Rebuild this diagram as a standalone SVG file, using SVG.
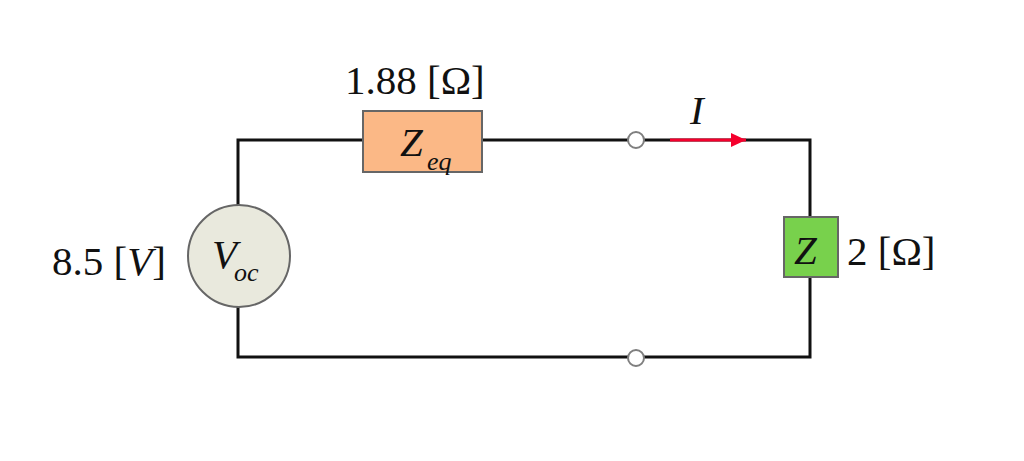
<svg xmlns="http://www.w3.org/2000/svg" width="1024" height="461" viewBox="0 0 1024 461">
<style>
text{font-family:"Liberation Serif","Times New Roman",serif;fill:#111;white-space:pre}
.v{font-size:41px}
.l{font-size:41px;font-style:italic}
.s{font-size:26px;font-style:italic}
.w{fill:none;stroke:#111;stroke-width:3}
.b{stroke:#666;stroke-width:2}
.t{fill:#fff;stroke:#7f7f7f;stroke-width:2}
</style>
<defs><marker id="ah" markerUnits="userSpaceOnUse" markerWidth="16" markerHeight="14" refX="15" refY="7" orient="auto"><path d="M0 0L15 7L0 14Z" fill="#f5002d"/></marker></defs>
<rect width="1024" height="461" fill="#fff"/>
<g id="connectors">
<path class="w" d="M238 205V140H363M482 140H810V357H238V307"/>
<path d="M670 140H746" fill="none" stroke="#f5002d" stroke-width="3" marker-end="url(#ah)"/>
</g>
<g id="zeq"><rect class="b" x="363" y="111" width="119" height="61" fill="#fbb886"/>
<text class="l" x="400" y="156">Z</text><text class="s" x="427" y="170">eq</text>
<text class="v" x="345" y="94">1.88 [Ω]</text></g>
<g id="voc"><circle class="b" cx="239" cy="256" r="51" fill="#e9e9dd"/>
<text class="l" x="212" y="268">V</text><text class="s" x="234" y="281">oc</text>
<text x="52" y="275" class="v">8.5 [<tspan font-style="italic">V</tspan>]</text></g>
<g id="z"><rect class="b" x="784" y="217" width="54" height="60" fill="#78d14c"/>
<text class="l" x="794" y="264">Z</text>
<text class="v" x="847" y="265">2 [Ω]</text></g>
<g id="terminal-top"><circle class="t" cx="636" cy="140" r="8"/></g>
<g id="terminal-bottom"><circle class="t" cx="636" cy="358" r="8"/></g>
<g id="current"><text class="l" x="690" y="124">I</text></g>
</svg>
